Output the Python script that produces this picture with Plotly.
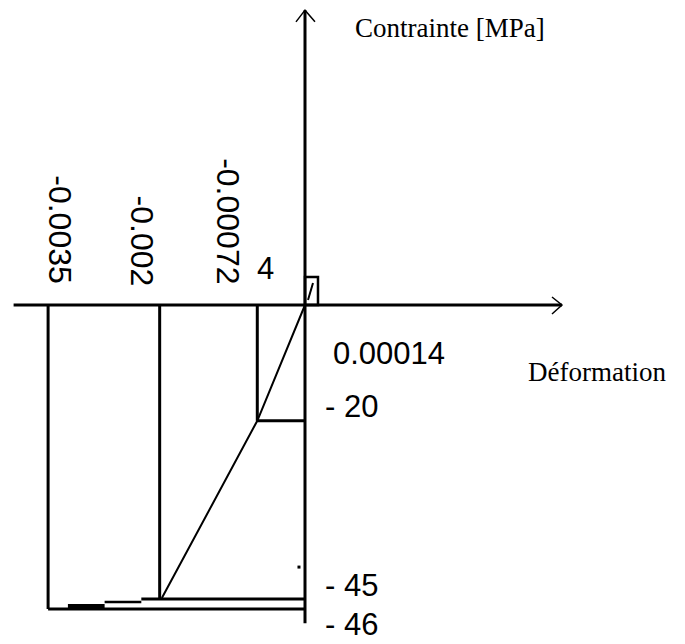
import plotly.graph_objects as go

# ---- Text content -------------------------------------------------------
x_title = "Déformation"
y_title = "Contrainte [MPa]"
strain_labels = ["-0.0035", "-0.002", "-0.00072"]
strain_label_x = [-0.00334, -0.00222, -0.00106]   # strain where each rotated label sits
strain_label_y = [12.8, 11.0, 14.3]                # stress where each rotated label sits
small_strain_label = "0.00014"
extra_label = "4"
stress_labels = ["- 20", "- 45", "- 46"]
stress_label_y = [-17.3, -47.9, -57.9]

# ---- Schematic geometry (strain [-], stress [MPa]) --
axis_h_strain = [-0.00397, 0.00350]
axis_v_stress = [-54.4, 50.4]
arrow_right_strain = [0.003365, 0.003501, 0.003365]
arrow_right_stress = [1.37, 0.0, -1.54]
arrow_up_strain = [-0.000123, 0.0, 0.000136]
arrow_up_stress = [48.4, 50.4, 48.4]

guide_strain = [-0.00350, -0.00198, -0.00065]
guide_bottom_stress = [-51.97, -50.26, -19.8]

plateau_20_strain = [-0.00065, 0.0]
plateau_20_stress = [-19.8, -19.8]
plateau_45_strain = [-0.00223, 0.0]
plateau_45_stress = [-50.26, -50.26]
step1_strain = [-0.00273, -0.00223]
step1_stress = [-50.77, -50.77]
step2_strain = [-0.00323, -0.00273]
step2_stress = [-51.45, -51.45]
plateau_46_strain = [-0.00350, 0.0]
plateau_46_stress = [-51.97, -51.97]

curve_strain = [0.0, -0.00065, -0.00195]
curve_stress = [0.0, -19.8, -50.1]

tension_box_strain = [0.0, 0.0, 0.000177, 0.000177, 0.0]
tension_box_stress = [0.0, 4.79, 4.79, 0.0, 0.0]
tension_line_strain = [0.000041, 0.000109]
tension_line_stress = [0.85, 3.76]

dot_strain = [-0.000082]
dot_stress = [-44.8]

# ---- Figure -------------------------------------------------------------
fig = go.Figure()


def add_line(xs, ys, width):
    fig.add_trace(go.Scatter(x=xs, y=ys, mode="lines",
                             line=dict(color="black", width=width),
                             hoverinfo="skip", showlegend=False))


# axes
add_line(axis_h_strain, [0, 0], 3)
add_line([0, 0], axis_v_stress, 3)
add_line(arrow_right_strain, arrow_right_stress, 1.5)
add_line(arrow_up_strain, arrow_up_stress, 1.5)

# vertical guides
gx, gy = [], []
for s, b in zip(guide_strain, guide_bottom_stress):
    gx += [s, s, None]
    gy += [0, b, None]
add_line(gx, gy, 3)

# horizontal plateaus
add_line(plateau_20_strain, plateau_20_stress, 3)
add_line(plateau_45_strain, plateau_45_stress, 3)
add_line(step1_strain, step1_stress, 2.5)
add_line(step2_strain, step2_stress, 4)
add_line(plateau_46_strain, plateau_46_stress, 3)

# constitutive curve
add_line(curve_strain, curve_stress, 2)

# tension part
add_line(tension_box_strain, tension_box_stress, 2.5)
add_line(tension_line_strain, tension_line_stress, 2)

# small dot
fig.add_trace(go.Scatter(x=dot_strain, y=dot_stress, mode="markers",
                         marker=dict(color="black", size=3, symbol="square"),
                         hoverinfo="skip", showlegend=False))

sans = "Liberation Sans, Arial, sans-serif"
serif = "Liberation Serif, Times New Roman, serif"

ann = []
for t, x, y in zip(strain_labels, strain_label_x, strain_label_y):
    ann.append(dict(x=x, y=y, text=t, textangle=90, showarrow=False,
                    xanchor="center", yanchor="middle",
                    font=dict(family=sans, size=32, color="black")))
ann.append(dict(x=-0.000545, y=6.3, text=extra_label, showarrow=False,
                xanchor="center", yanchor="middle",
                font=dict(family=sans, size=31, color="black")))
ann.append(dict(x=0.001138, y=-8.3, text=small_strain_label, showarrow=False,
                xanchor="center", yanchor="middle",
                font=dict(family=sans, size=31, color="black")))
for i, (t, y) in enumerate(zip(stress_labels, stress_label_y)):
    last = i == len(stress_labels) - 1
    ann.append(dict(x=0.000634, y=y, text=t, showarrow=False,
                    xanchor="center", yanchor="bottom" if last else "middle",
                    font=dict(family=sans, size=31, color="black")))
ann.append(dict(x=0.003974, y=-11.5, text=x_title, showarrow=False,
                xanchor="center", yanchor="middle",
                font=dict(family=serif, size=27, color="black")))
ann.append(dict(x=0.001969, y=47.3, text=y_title, showarrow=False,
                xanchor="center", yanchor="middle",
                font=dict(family=serif, size=27, color="black")))

fig.update_layout(
    width=685, height=644, autosize=False,
    margin=dict(l=0, r=0, t=0, b=0, pad=0),
    paper_bgcolor="white", plot_bgcolor="white",
    showlegend=False,
    xaxis=dict(range=[-305 / 73400, 380 / 73400], visible=False, fixedrange=True),
    yaxis=dict(range=[-339 / 5.85, 305 / 5.85], visible=False, fixedrange=True),
    annotations=ann,
)

fig.write_html("out.html")
